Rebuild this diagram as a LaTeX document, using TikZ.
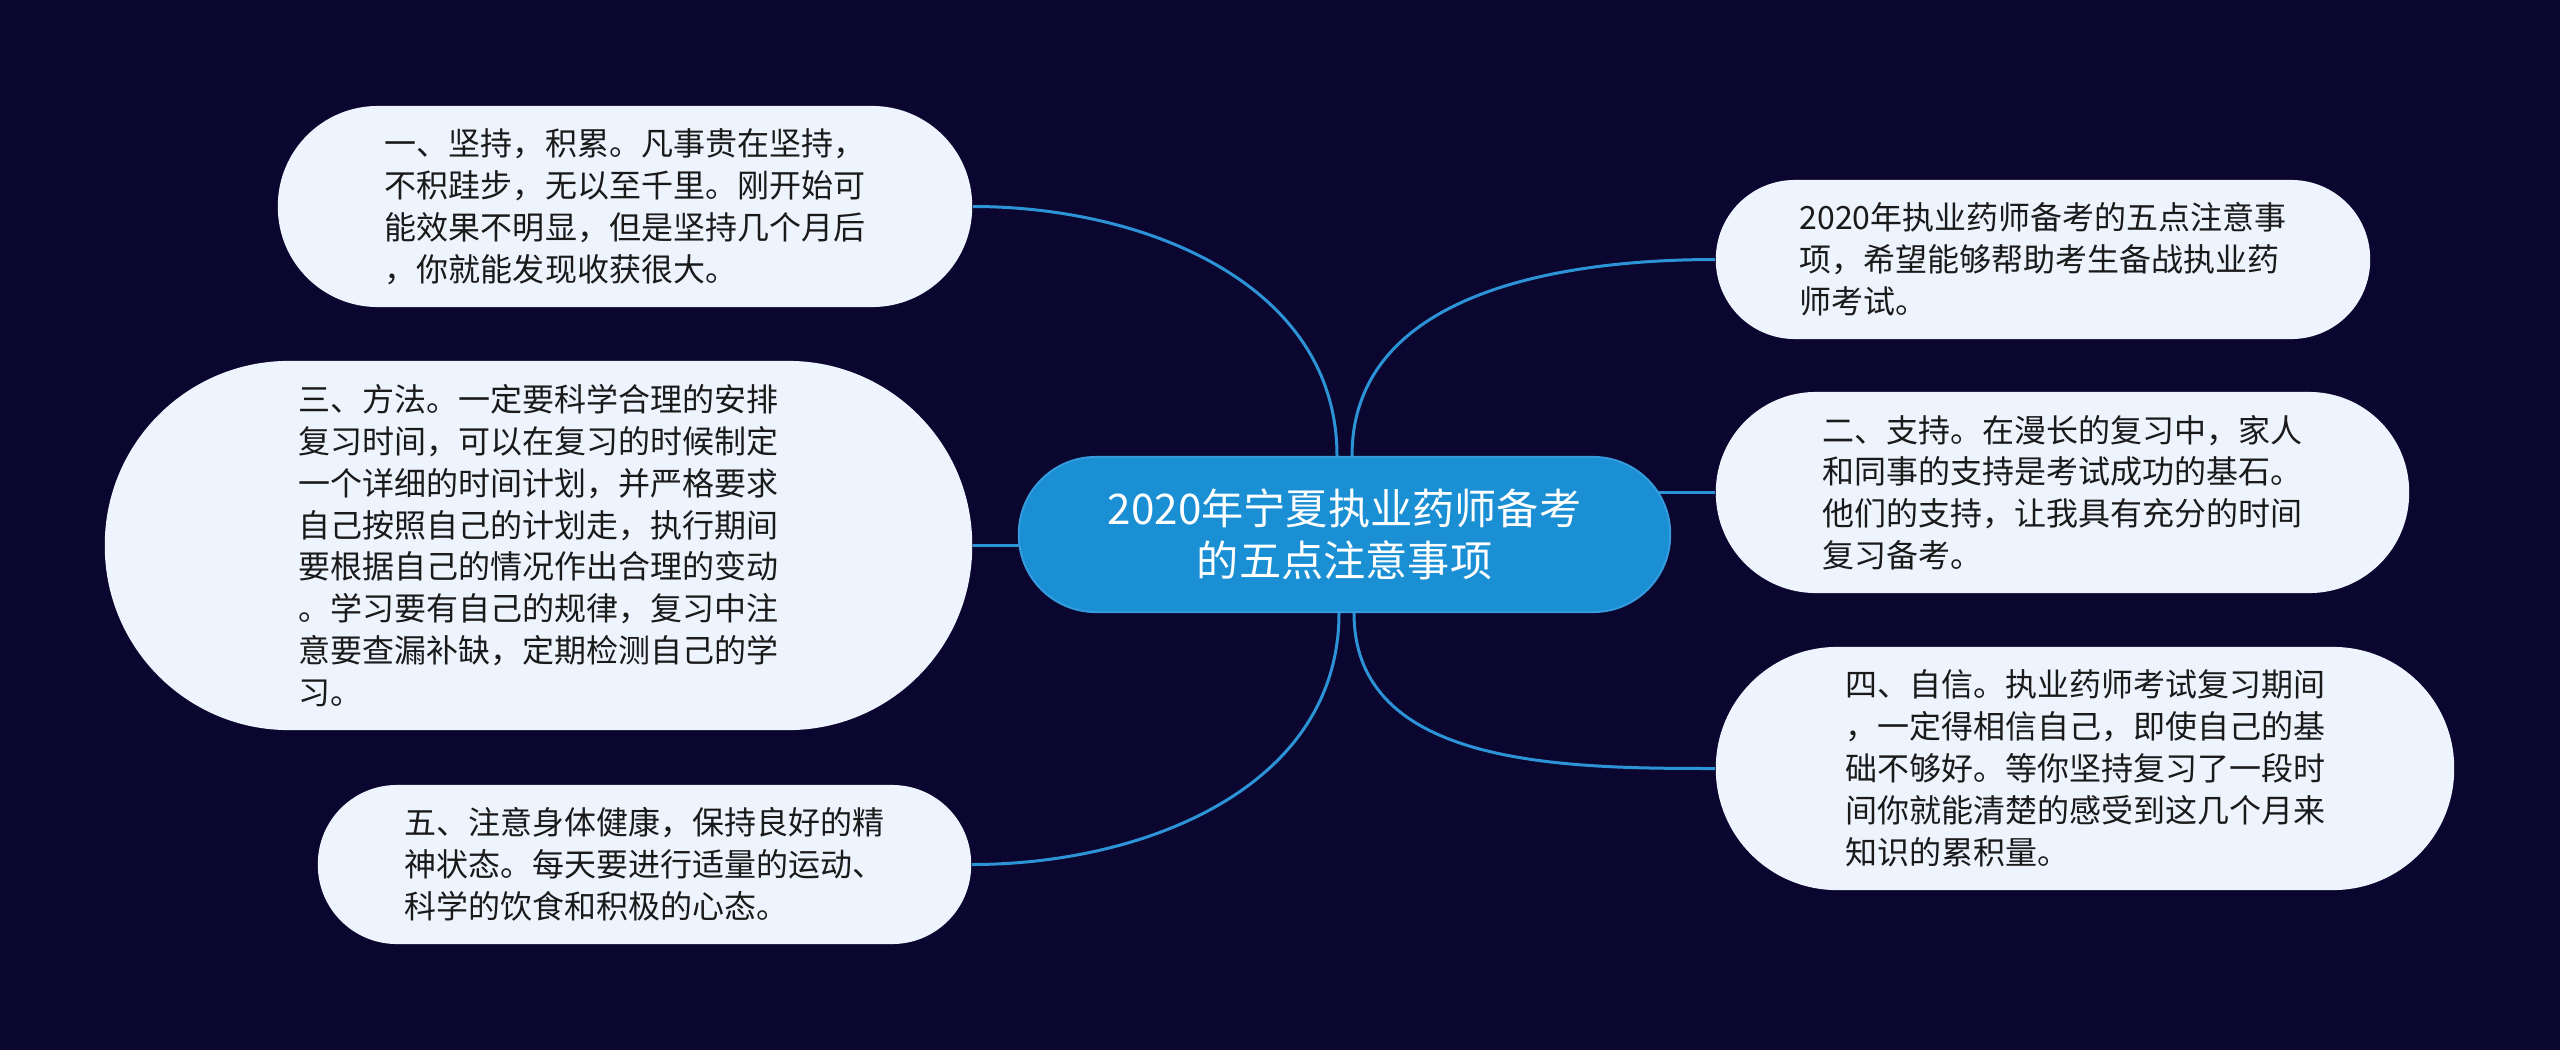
\documentclass[tikz,border=0pt]{standalone}
\usepackage{fontspec}
\newfontfamily\cjk{Noto Sans CJK SC}
\usetikzlibrary{backgrounds}
\definecolor{bgnavy}{RGB}{11,6,48}
\definecolor{hubblue}{RGB}{26,143,211}
\definecolor{hubedge}{RGB}{52,156,222}
\definecolor{leaffill}{RGB}{238,244,253}
\definecolor{leaftext}{RGB}{26,26,26}
\definecolor{linkblue}{RGB}{44,148,214}

\begin{document}
\begin{tikzpicture}[x=0.01cm, y=0.01cm,
  hub/.style={fill=hubblue, draw=hubedge, line width=0.02cm, text=white, align=center,
    inner sep=0pt, font=\cjk\fontsize{12pt}{15pt}\selectfont},
  leaf/.style={fill=leaffill, text=leaftext, align=left, inner sep=0pt,
    font=\cjk\fontsize{9.1pt}{11.9pt}\selectfont},
  link/.style={draw=linkblue, line width=0.03cm}]
\node[hub, minimum width=6.51cm, minimum height=1.55cm, rounded corners=0.77cm] (centre) at (1344.5,515.5)
  {2020年宁夏执业药师备考\\的五点注意事项};
\node[leaf, minimum width=6.94cm, minimum height=2.01cm, rounded corners=1cm] (one) at (625,843.5)
  {一、坚持，积累。凡事贵在坚持，\\不积跬步，无以至千里。刚开始可\\能效果不明显，但是坚持几个月后\\，你就能发现收获很大。};
\node[leaf, minimum width=8.67cm, minimum height=3.69cm, rounded corners=1.84cm] (three) at (538.5,504.5)
  {三、方法。一定要科学合理的安排\\复习时间，可以在复习的时候制定\\一个详细的时间计划，并严格要求\\自己按照自己的计划走，执行期间\\要根据自己的情况作出合理的变动\\。学习要有自己的规律，复习中注\\意要查漏补缺，定期检测自己的学\\习。};
\node[leaf, minimum width=6.53cm, minimum height=1.59cm, rounded corners=0.79cm] (five) at (644.5,185.5)
  {五、注意身体健康，保持良好的精\\神状态。每天要进行适量的运动、\\科学的饮食和积极的心态。};
\node[leaf, minimum width=6.54cm, minimum height=1.59cm, rounded corners=0.79cm] (intro) at (2043,790.5)
  {2020年执业药师备考的五点注意事\\项，希望能够帮助考生备战执业药\\师考试。};
\node[leaf, minimum width=6.93cm, minimum height=2.01cm, rounded corners=1cm] (two) at (2062.5,557.5)
  {二、支持。在漫长的复习中，家人\\和同事的支持是考试成功的基石。\\他们的支持，让我具有充分的时间\\复习备考。};
\node[leaf, minimum width=7.38cm, minimum height=2.43cm, rounded corners=1.21cm] (four) at (2085,281.5)
  {四、自信。执业药师考试复习期间\\，一定得相信自己，即使自己的基\\础不够好。等你坚持复习了一段时\\间你就能清楚的感受到这几个月来\\知识的累积量。};
\begin{scope}[on background layer]
\fill[bgnavy] (0,0) rectangle (2560,1050);
\draw[link] ([xshift=-0.075cm]centre.north) to [out=90,in=0] (one.east);
\draw[link] (centre.center |- three.east) -- (three.east);
\draw[link] ([xshift=-0.055cm]centre.south) to [out=-90,in=0] (five.east);
\draw[link] ([xshift=0.075cm]centre.north) to [out=90,in=180] (intro.west);
\draw[link] (centre.center |- two.west) -- (two.west);
\draw[link] ([xshift=0.095cm]centre.south) to [out=-90,in=180] (four.west);
\end{scope}
\end{tikzpicture}
\end{document}
